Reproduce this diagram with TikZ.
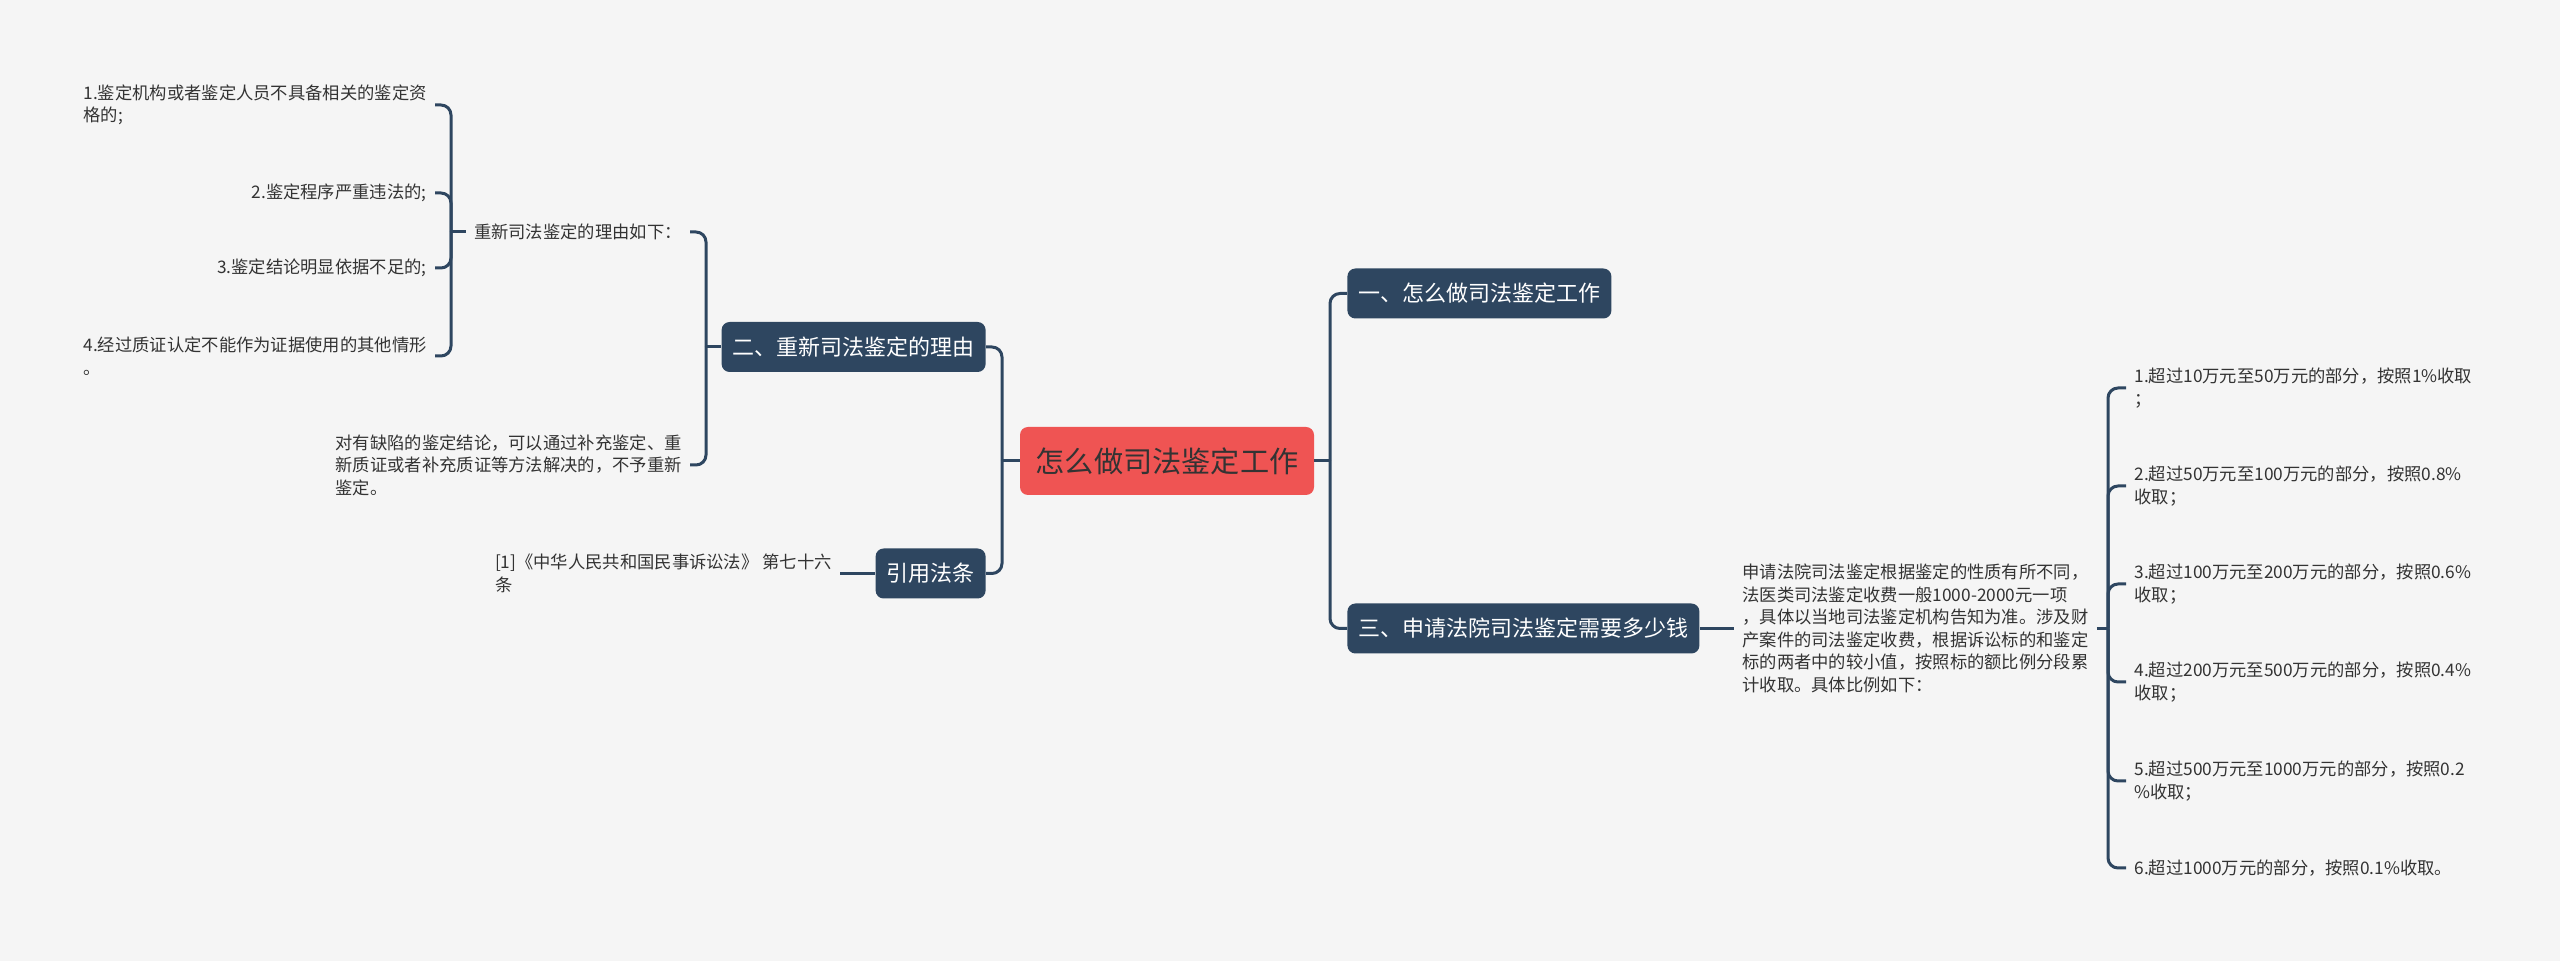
\documentclass[tikz,border=0pt]{standalone}
\usepackage{fontspec}
\setmainfont{Noto Sans CJK SC}
\definecolor{bg}{HTML}{F5F5F5}
\definecolor{navy}{HTML}{2E4660}
\definecolor{rootred}{HTML}{EF5453}
\definecolor{txt}{HTML}{333333}
\begin{document}
\begin{tikzpicture}[x=0.5pt,y=-0.5pt,
  conn/.style={draw=navy, line width=1.5pt, rounded corners=5pt},
  topic/.style={fill=navy, text=white, rounded corners=4pt, font=\fontsize{11}{13}\selectfont, inner xsep=5.5pt, inner ysep=0pt, minimum height=25pt},
  rootbox/.style={fill=rootred, text=txt, rounded corners=4pt, font=\fontsize{14.6}{17}\selectfont, inner xsep=7.5pt, minimum height=34pt, minimum width=147pt},
  leaf/.style={text=txt, font=\fontsize{8.65}{11.25}\selectfont, inner xsep=4pt, inner ysep=0pt, align=left},
]
\fill[bg] (0,0) rectangle (2560,961);

\node[rootbox] (root) at (1167,461) {怎么做司法鉴定工作};
\node[topic, anchor=west] (b1) at (1347,293.5) {一、怎么做司法鉴定工作};
\node[topic, anchor=west] (b3) at (1347,628.5) {三、申请法院司法鉴定需要多少钱};
\node[topic, anchor=east] (b2) at (986,347) {二、重新司法鉴定的理由};
\node[topic, anchor=east] (b4) at (986,573.5) {引用法条};

\node[leaf, anchor=east] (r0) at (690,232) {重新司法鉴定的理由如下：};
\node[leaf, anchor=east] (r5) at (690,465) {对有缺陷的鉴定结论，可以通过补充鉴定、重\\新质证或者补充质证等方法解决的，不予重新\\鉴定。};
\node[leaf, anchor=east] (r1) at (435,105) {1.鉴定机构或者鉴定人员不具备相关的鉴定资\\格的;};
\node[leaf, anchor=east] (r2) at (435,193) {2.鉴定程序严重违法的;};
\node[leaf, anchor=east] (r3) at (435,268) {3.鉴定结论明显依据不足的;};
\node[leaf, anchor=east] (r4) at (435,356) {4.经过质证认定不能作为证据使用的其他情形\\。};
\node[leaf, anchor=east] (law) at (840,573.5) {[1]《中华人民共和国民事诉讼法》 第七十六\\条};

\node[leaf, anchor=west] (para) at (1734,628.5) {申请法院司法鉴定根据鉴定的性质有所不同，\\法医类司法鉴定收费一般1000-2000元一项\\，具体以当地司法鉴定机构告知为准。涉及财\\产案件的司法鉴定收费，根据诉讼标的和鉴定\\标的两者中的较小值，按照标的额比例分段累\\计收取。具体比例如下：};
\node[leaf, anchor=west] (f1) at (2126,388) {1.超过10万元至50万元的部分，按照1\%收取\\；};
\node[leaf, anchor=west] (f2) at (2126,486) {2.超过50万元至100万元的部分，按照0.8\%\\收取；};
\node[leaf, anchor=west] (f3) at (2126,584) {3.超过100万元至200万元的部分，按照0.6\%\\收取；};
\node[leaf, anchor=west] (f4) at (2126,682) {4.超过200万元至500万元的部分，按照0.4\%\\收取；};
\node[leaf, anchor=west] (f5) at (2126,781) {5.超过500万元至1000万元的部分，按照0.2\\\%收取；};
\node[leaf, anchor=west] (f6) at (2126,868) {6.超过1000万元的部分，按照0.1\%收取。};

\coordinate (jr) at (1330,461);
\coordinate (jl) at (1002,461);
\coordinate (j2) at (706,347);
\coordinate (j5) at (451,232);
\coordinate (j3) at (2108,628.5);

\draw[conn] (root.east) -- (jr);
\draw[conn] (jr) |- (b1.west);
\draw[conn] (jr) |- (b3.west);
\draw[conn] (root.west) -- (jl);
\draw[conn] (jl) |- (b2.east);
\draw[conn] (jl) |- (b4.east);
\draw[conn] (b2.west) -- (j2);
\draw[conn] (j2) |- (r0.east);
\draw[conn] (j2) |- (r5.east);
\draw[conn] (r0.west) -- (j5);
\draw[conn] (j5) |- (r1.east);
\draw[conn] (j5) |- (r2.east);
\draw[conn] (j5) |- (r3.east);
\draw[conn] (j5) |- (r4.east);
\draw[conn] (b4.west) -- (law.east);
\draw[conn] (b3.east) -- (para.west);
\draw[conn] (para.east) -- (j3);
\draw[conn] (j3) |- (f1.west);
\draw[conn] (j3) |- (f2.west);
\draw[conn] (j3) |- (f3.west);
\draw[conn] (j3) |- (f4.west);
\draw[conn] (j3) |- (f5.west);
\draw[conn] (j3) |- (f6.west);
\end{tikzpicture}
\end{document}
